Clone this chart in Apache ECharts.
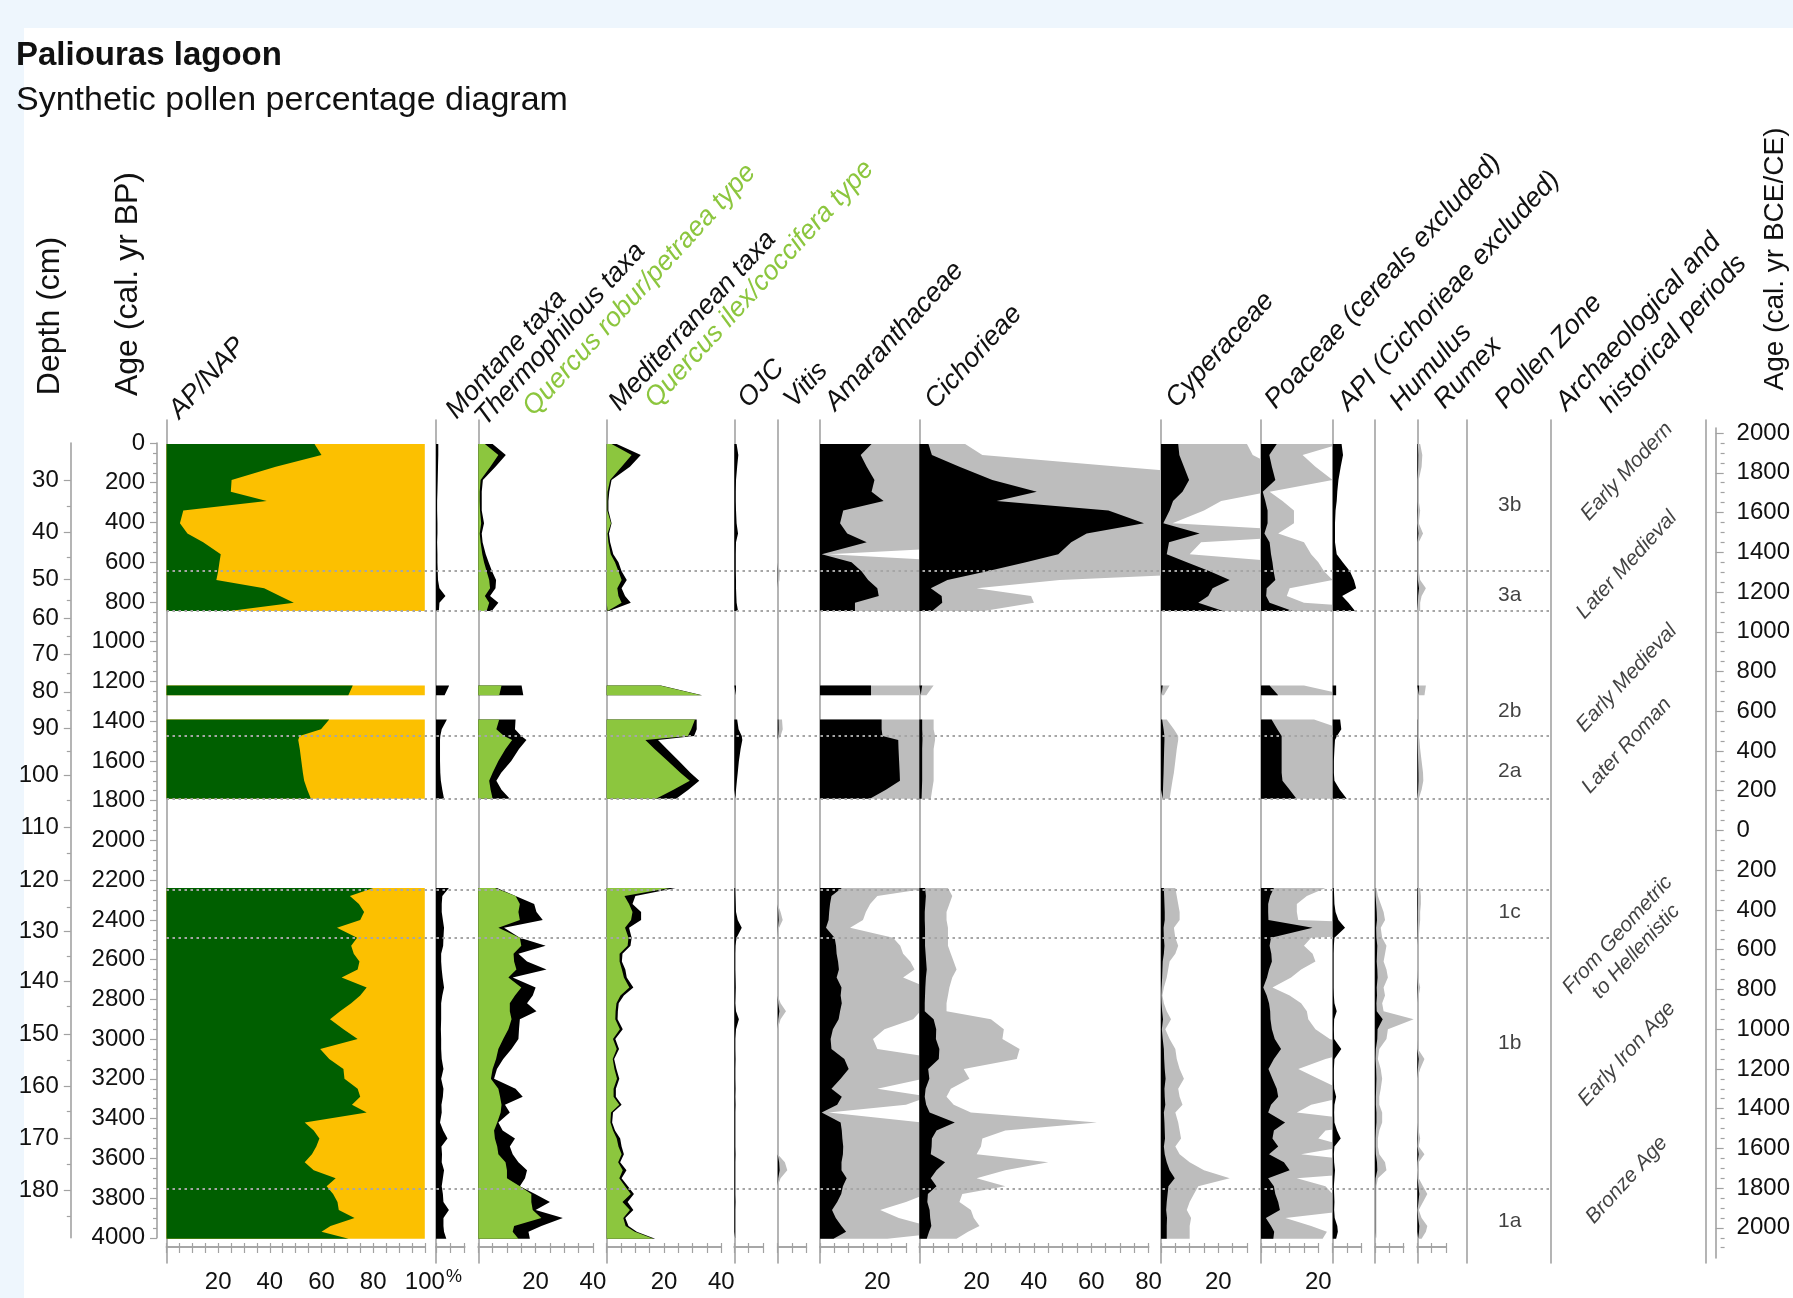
<!DOCTYPE html>
<html>
<head>
<meta charset="utf-8">
<title>Paliouras lagoon – synthetic pollen percentage diagram</title>
<script src="https://cdn.jsdelivr.net/npm/echarts@6.0.0/dist/echarts.min.js"></script>
<style>
  html, body { margin: 0; padding: 0; background: #eef6fd; }
  #sheet { position: absolute; left: 24px; top: 28px; right: 0; bottom: 0; background: #ffffff; }
  #chart { position: absolute; left: 0; top: 0; width: 1793px; height: 1298px; }
</style>
</head>
<body>
<div id="sheet"></div>
<div id="chart"></div>
<script>
// ---------------------------------------------------------------------------
// Sample ages (cal. yr BP). null separates the sampled sections (hiatuses).
// ---------------------------------------------------------------------------
const ages = [
  5, 60, 120, 186, 245, 292, 340, 404, 455, 500, 560, 600, 645, 690, 731, 770, 804, 845, null,
  1220, 1270, null,
  1392, 1440, 1475, 1495, 1540, 1600, 1660, 1700, 1745, 1790, null,
  2240, 2280, 2320, 2360, 2400, 2440, 2490, 2530, 2570, 2610, 2650, 2690, 2740, 2780, 2820, 2860, 2900, 2950, 3000, 3050,
  3100, 3150, 3200, 3250, 3290, 3330, 3370, 3420, 3460, 3500, 3540, 3580, 3620, 3660, 3700, 3740, 3780, 3820, 3860, 3900,
  3940, 3970, 4005
];

// Arboreal pollen (AP, %) – the remainder up to 100 % is NAP
const apPercent = [
  57.3, 60.0, 42.3, 25.2, 24.9, 38.8, 6.5, 5.2, 8.1, 14.2, 21.0, 20.5, 20.0, 19.3, 37.8, 43.9, 49.3, 24.4, null,
  72.1, 70.4, null,
  63.0, 59.8, 51.5, 51.0, 51.6, 52.2, 52.8, 53.3, 54.5, 55.9, null,
  80.0, 71.0, 74.5, 76.5, 75.0, 66.0, 73.8, 71.5, 72.5, 74.7, 74.0, 67.8, 77.5, 75.0, 71.5, 67.2, 63.3, 68.5, 74.0, 59.5,
  63.0, 68.5, 68.9, 74.0, 75.0, 71.8, 77.5, 53.5, 57.0, 59.2, 58.0, 56.3, 53.5, 57.0, 65.5, 62.0, 64.5, 66.2, 66.7, 72.8,
  63.5, 60.0, 70.5
];

const montane = [
  0.8, 0.8, 0.7, 0.6, 0.5, 0.4, 0.4, 0.5, 0.5, 0.4, 0.5, 0.5, 0.6, 0.7, 1.2, 3.3, 1.2, 1.0, null,
  4.6, 3.0, null,
  3.8, 2.0, 1.5, 1.4, 1.4, 1.4, 1.5, 1.7, 2.2, 2.8, null,
  4.5, 2.2, 2.0, 2.0, 2.4, 2.8, 2.6, 2.5, 1.8, 1.8, 2.0, 2.3, 2.8, 2.2, 1.8, 1.8, 1.8, 1.7, 1.8, 1.8,
  2.0, 2.6, 1.8, 2.6, 2.4, 1.9, 2.0, 1.4, 2.5, 4.0, 1.9, 2.1, 2.0, 2.8, 2.4, 2.0, 2.4, 2.6, 4.5, 2.6,
  2.6, 2.8, 3.6
];

const thermophilous = [
  5.0, 9.6, 6.0, 1.6, 1.2, 1.2, 1.2, 2.0, 1.2, 1.5, 2.6, 3.6, 4.8, 6.2, 6.0, 4.1, 7.0, 4.7, null,
  15.1, 15.7, null,
  13.0, 12.8, 15.0, 16.8, 14.2, 11.5, 8.0, 6.3, 8.1, 11.0, null,
  6.5, 13.0, 19.5, 20.3, 22.5, 9.0, 14.5, 23.5, 14.0, 17.0, 23.8, 12.0, 20.0, 19.0, 17.0, 20.3, 14.5, 14.2, 14.0, 11.6,
  8.7, 6.5, 5.5, 13.0, 15.5, 9.3, 11.0, 7.0, 8.5, 12.8, 11.0, 12.0, 14.0, 17.0, 16.3, 14.5, 19.8, 25.0, 20.0, 29.5,
  22.0, 17.5, 18.0
];

const quercusRoburPetraea = [
  2.3, 7.0, 4.2, 0.8, 0.5, 0.5, 0.6, 1.0, 0.5, 0.8, 1.4, 2.0, 2.9, 3.8, 4.1, 2.3, 3.8, 2.9, null,
  8.1, 7.3, null,
  7.3, 6.3, 9.0, 11.8, 9.5, 7.0, 5.0, 3.8, 4.3, 5.0, null,
  5.8, 13.0, 14.5, 14.0, 14.5, 7.0, 14.5, 15.0, 12.3, 12.5, 13.3, 10.5, 15.0, 12.8, 11.0, 11.0, 11.6, 10.5, 8.7, 7.0,
  6.2, 5.0, 4.4, 7.0, 7.6, 8.1, 7.8, 6.6, 5.5, 5.8, 6.6, 7.0, 9.5, 10.0, 10.0, 14.5, 18.5, 18.5, 19.0, 22.0,
  12.5, 12.0, 14.0
];

const mediterranean = [
  3.5, 11.9, 8.1, 1.7, 0.9, 0.6, 0.6, 1.7, 0.8, 1.2, 2.3, 4.1, 5.2, 7.0, 5.2, 6.4, 8.4, 0.8, null,
  18.9, 33.3, null,
  31.4, 31.4, 30.5, 17.9, 21.0, 25.2, 29.2, 32.3, 28.5, 24.2, null,
  24.0, 10.0, 9.0, 12.0, 12.0, 7.8, 8.7, 8.3, 5.5, 5.3, 6.5, 7.0, 9.3, 6.0, 4.2, 3.9, 3.8, 5.6, 3.0, 4.3,
  2.6, 3.4, 4.4, 3.2, 3.2, 5.2, 2.2, 1.9, 2.9, 4.7, 5.2, 6.0, 4.7, 6.9, 5.2, 7.4, 9.5, 7.3, 9.3, 6.5,
  7.6, 10.5, 16.9
];

const quercusIlexCoccifera = [
  1.7, 8.7, 5.2, 1.2, 0.3, 0.2, 0.2, 1.5, 0.3, 0.6, 1.4, 2.9, 4.1, 5.2, 3.7, 4.1, 5.2, 0.3, null,
  18.6, 33.0, null,
  30.8, 29.5, 28.3, 13.5, 16.7, 21.3, 25.7, 29.0, 23.3, 17.2, null,
  22.0, 6.2, 7.8, 9.0, 8.5, 6.4, 7.6, 7.3, 4.5, 4.5, 5.3, 6.0, 7.9, 4.8, 3.4, 3.1, 3.0, 4.6, 2.2, 3.5,
  2.1, 2.7, 3.6, 2.4, 2.4, 4.4, 1.5, 1.3, 2.2, 3.5, 4.1, 5.2, 4.0, 5.6, 4.4, 6.4, 8.4, 5.5, 8.1, 5.8,
  6.6, 9.8, 16.3
];

// Olea, Juglans, Castanea
const ojc = [
  0.8, 1.4, 1.0, 0.6, 0.5, 0.5, 0.6, 0.8, 1.3, 0.6, 0.5, 0.5, 0.5, 0.6, 0.6, 0.7, 0.8, 1.3, null,
  0.6, 0.5, null,
  1.0, 1.5, 2.6, 2.8, 2.2, 1.6, 1.2, 0.9, 0.6, 0.4, null,
  0.3, 0.4, 0.5, 0.6, 1.2, 2.6, 0.8, 0.4, 0.3, 0.3, 0.3, 0.4, 0.5, 0.4, 0.3, 0.6, 1.6, 0.6, 0.3, 0.3,
  0.4, 0.3, 0.3, 0.4, 0.3, 0.4, 0.3, 0.3, 0.3, 0.3, 0.3, 0.4, 0.3, 0.3, 0.3, 0.3, 0.3, 0.4, 0.3, 0.3,
  0.3, 0.3, 0.3
];

const vitis = [
  0, 0, 0, 0, 0, 0, 0, 0, 0, 0, 0, 0, 0.15, 0.12, 0, 0, 0, 0, null,
  0, 0, null,
  0.3, 0.35, 0.2, 0, 0, 0, 0, 0, 0, 0, null,
  0, 0, 0, 0.2, 0.35, 0.1, 0, 0, 0, 0, 0, 0, 0, 0, 0.2, 0.58, 0.2, 0, 0, 0,
  0, 0, 0, 0, 0, 0, 0, 0, 0, 0, 0, 0, 0.5, 0.67, 0.2, 0, 0, 0, 0, 0,
  0, 0, 0
];

const amaranthaceae = [
  18.0, 14.2, 16.3, 19.0, 18.0, 22.2, 8.1, 7.0, 9.5, 16.3, 0.6, 11.0, 14.5, 16.8, 20.0, 20.5, 12.2, 12.2, null,
  17.8, 17.8, null,
  21.5, 21.5, 21.8, 27.3, 27.4, 27.6, 27.8, 27.9, 23.0, 17.4, null,
  7.6, 4.0, 3.5, 3.2, 3.0, 2.1, 5.1, 5.6, 5.8, 6.3, 6.6, 5.8, 7.5, 7.2, 7.6, 7.0, 6.5, 4.5, 3.7, 4.0,
  8.5, 10.0, 7.2, 4.0, 7.6, 6.0, 0.6, 7.2, 7.6, 7.8, 8.1, 8.0, 7.5, 7.5, 9.3, 8.0, 7.4, 6.0, 4.2, 5.5,
  7.5, 9.1, 4.7
];

const cichorieae = [
  3.2, 4.4, 14.0, 25.5, 41.0, 27.0, 66.0, 78.4, 58.4, 53.0, 48.5, 37.2, 23.7, 9.8, 4.0, 7.8, 8.0, 4.5, null,
  1.0, 0.5, null,
  1.0, 1.0, 1.1, 1.1, 1.0, 1.0, 1.0, 1.0, 0.9, 0.8, null,
  2.0, 2.3, 2.1, 1.9, 1.9, 2.0, 2.0, 2.0, 2.2, 2.4, 2.6, 2.3, 2.1, 2.0, 1.9, 1.9, 5.0, 5.9, 5.8, 7.0,
  6.8, 3.1, 3.5, 2.2, 1.9, 2.4, 3.6, 12.4, 6.0, 4.4, 4.3, 4.0, 9.0, 6.0, 4.0, 6.0, 3.0, 2.8, 3.6, 3.8,
  4.2, 3.4, 2.6
];

const cyperaceae = [
  6.0, 6.4, 8.0, 9.8, 7.5, 4.2, 3.0, 0.8, 13.5, 2.8, 2.0, 9.0, 17.0, 24.0, 18.0, 16.5, 13.0, 21.7, null,
  0.6, 0.2, null,
  0.4, 0.9, 1.2, 1.2, 1.1, 1.0, 0.9, 0.8, 0.7, 0.6, null,
  1.0, 1.1, 1.2, 1.3, 1.3, 0.9, 1.0, 1.2, 1.0, 0.6, 0.5, 0.4, 0.2, 0.1, 0.2, 0.4, 0.7, 0.3, 0.6, 1.0,
  1.1, 1.3, 1.6, 1.2, 1.3, 1.5, 1.0, 1.2, 1.3, 1.4, 1.0, 1.3, 2.0, 3.0, 4.8, 2.6, 2.3, 2.0, 1.8, 2.1,
  2.0, 2.0, 2.0
];

const poaceae = [
  5.5, 2.9, 3.8, 5.0, 0.6, 1.5, 2.3, 2.3, 1.2, 3.0, 3.5, 4.0, 4.4, 5.0, 2.0, 1.8, 3.0, 11.0, null,
  3.0, 6.0, null,
  3.7, 5.7, 7.2, 7.2, 7.2, 7.2, 7.2, 7.5, 10.0, 12.4, null,
  4.5, 3.2, 2.5, 2.5, 2.6, 18.0, 3.5, 3.0, 3.6, 3.8, 2.8, 2.1, 0.8, 2.0, 2.8, 3.2, 3.3, 3.8, 4.8, 7.0,
  4.5, 2.6, 4.0, 5.5, 6.0, 3.5, 2.5, 8.4, 4.5, 4.0, 6.0, 2.8, 8.0, 10.0, 2.5, 4.5, 5.0, 6.0, 6.6, 1.7,
  3.5, 4.6, 4.3
];

// Anthropogenic pollen indicators
const api = [
  3.1, 3.6, 2.8, 2.0, 1.6, 1.4, 1.0, 0.8, 0.8, 0.8, 1.4, 3.5, 6.0, 7.4, 8.2, 3.3, 5.5, 7.8, null,
  1.2, 1.2, null,
  2.6, 3.0, 1.5, 0.8, 0.6, 0.4, 0.4, 0.6, 2.5, 4.9, null,
  0.4, 0.5, 0.6, 1.0, 2.0, 4.3, 0.6, 0.4, 0.3, 0.3, 0.3, 0.3, 0.3, 0.4, 0.6, 1.4, 0.5, 0.4, 0.5, 3.0,
  0.6, 0.4, 0.4, 0.5, 1.2, 0.6, 0.5, 0.6, 1.5, 2.8, 0.6, 0.4, 0.5, 0.8, 0.6, 0.4, 0.5, 0.6, 0.5, 0.7,
  1.6, 1.8, 1.2
];

const humulus = [
  0, 0, 0, 0, 0, 0, 0, 0, 0, 0, 0, 0, 0, 0, 0, 0, 0, 0, null,
  0, 0, null,
  0, 0, 0, 0, 0, 0, 0, 0, 0, 0, null,
  0.1, 0.2, 0.4, 0.6, 0.7, 0.4, 0.5, 0.8, 0.7, 0.6, 0.8, 0.9, 0.6, 0.7, 0.5, 0.6, 2.7, 0.9, 0.8, 0.3,
  0.2, 0.4, 0.5, 0.4, 0.3, 0.3, 0.5, 0.5, 0.3, 0.2, 0.2, 0.3, 0.7, 0.8, 0.2, 0.1, 0.1, 0.1, 0.1, 0.1,
  0.1, 0.1, 0.1
];

const rumex = [
  0.2, 0.35, 0.3, 0.1, 0.1, 0.1, 0.2, 0.1, 0.4, 0.1, 0.1, 0.1, 0.1, 0.2, 0.6, 0.3, 0.2, 0.2, null,
  0.6, 0.5, null,
  0.1, 0.1, 0.1, 0.15, 0.2, 0.3, 0.4, 0.42, 0.3, 0.1, null,
  0.2, 0.25, 0.25, 0.2, 0.2, 0.15, 0.1, 0, 0, 0, 0, 0.05, 0.2, 0.1, 0, 0, 0, 0, 0, 0.05,
  0.5, 0.2, 0, 0, 0, 0, 0, 0, 0.1, 0.2, 0.1, 0.5, 0.1, 0, 0.1, 0.4, 0.7, 0.4, 0.1, 0.3,
  0.7, 0.6, 0.3
];

// Pollen zones
const zoneBoundaryAges = [643, 845, 1473, 1792, 2250, 2488, 3751];
const zoneNames = ['3b', '3a', '2b', '2a', '1c', '1b', '1a'];
const zoneLabelAges = [312, 768, 1352, 1654, 2359, 3020, 3914];

// Archaeological and historical periods
const periodNames = ['Early Modern', 'Later Medieval', 'Early Medieval', 'Later Roman',
  'From Geometric\nto Hellenistic', 'Early Iron Age', 'Bronze Age'];
const periodLabelAges = [144, 614, 1184, 1523, 2518, 3075, 3709];

// Depth scale (cm) and the ages at which each depth falls
const depthMajor = [30, 40, 50, 60, 70, 80, 90, 100, 110, 120, 130, 140, 150, 160, 170, 180];
const depthMajorAge = [186, 449, 686, 882, 1063, 1252, 1436, 1671, 1934, 2199, 2459, 2711, 2974, 3236, 3499, 3759];
const depthMinorAge = [317, 575, 790, 975, 1159, 1344, 1553, 1797, 2065, 2334, 2582, 2837, 3105, 3365, 3630, 3894];

// Calendar scale (positive CE, negative BCE)
const calendarMajor = [2000, 1800, 1600, 1400, 1200, 1000, 800, 600, 400, 200, 0,
  -200, -400, -600, -800, -1000, -1200, -1400, -1600, -1800, -2000];
const CAL_ZERO_BP = 1950;   // 1950 CE = 0 cal. yr BP

// ---------------------------------------------------------------------------
// Layout
// ---------------------------------------------------------------------------
const Y_AGE0 = 443;          // y pixel of 0 cal. yr BP
const PX_PER_YEAR = 0.1987;
const FRAME_TOP = 420, FRAME_BOTTOM = 1263;
const SCALE_TOP = 436, SCALE_BOTTOM = 1247;
const PX_PER_PCT = 2.866;
const PX_PER_PCT_AP = 2.583;
const EXAGGERATION = 5;

const C_AP = '#005f00', C_NAP = '#fcc000', C_QUERCUS = '#8cc63e';
const C_BLACK = '#000000', C_GREY = '#bdbdbd', C_AXIS = '#a2a2a2', C_TEXT = '#111111';
const FONT = 'Liberation Sans';
const AXIS_W = 1.6;

const ageAt = y => (y - Y_AGE0) / PX_PER_YEAR;

const napTotal = apPercent.map(v => (v == null ? null : 100));

// one entry per column: x of its axis, x of the next column's axis, scale length
const panels = [
  { x0: 166.5, x1: 424.8, ppu: PX_PER_PCT_AP, scale: 100, labels: [20, 40, 60, 80, 100],
    layers: [{ values: napTotal, color: C_NAP }, { values: apPercent, color: C_AP }] },
  { x0: 436, x1: 478.3, scale: 10, labels: [], layers: [{ values: montane, color: C_BLACK }] },
  { x0: 478.3, x1: 606.7, scale: 40, labels: [20, 40],
    layers: [{ values: thermophilous, color: C_BLACK }, { values: quercusRoburPetraea, color: C_QUERCUS }] },
  { x0: 606.7, x1: 734.3, scale: 40, labels: [20, 40],
    layers: [{ values: mediterranean, color: C_BLACK }, { values: quercusIlexCoccifera, color: C_QUERCUS }] },
  { x0: 734.3, x1: 777.7, scale: 10, labels: [], layers: [{ values: ojc, color: C_BLACK }] },
  { x0: 777.7, x1: 820, scale: 10, labels: [], exaggerated: vitis },
  { x0: 820, x1: 919.3, scale: 30, labels: [20], exaggerated: amaranthaceae },
  { x0: 919.3, x1: 1161, scale: 80, labels: [20, 40, 60, 80], exaggerated: cichorieae },
  { x0: 1161, x1: 1261, scale: 30, labels: [20], exaggerated: cyperaceae },
  { x0: 1261, x1: 1332.7, scale: 20, labels: [20], exaggerated: poaceae },
  { x0: 1332.7, x1: 1375, scale: 10, labels: [], layers: [{ values: api, color: C_BLACK }] },
  { x0: 1375, x1: 1417.3, scale: 10, labels: [], exaggerated: humulus },
  { x0: 1417.3, x1: 1466.7, scale: 10, labels: [], exaggerated: rumex }
];

function toPoints(values, factor) {
  return ages.map((a, k) => (a == null || values[k] == null) ? [null, null] : [values[k] * factor, a]);
}

const grid = [], xAxis = [], yAxis = [], series = [];
const addGrid = g => grid.push(g) - 1;
const axisLineOn = { show: true, lineStyle: { color: C_AXIS, width: AXIS_W } };
const frameAgeAxis = (gi, extra) => Object.assign({
  gridIndex: gi, type: 'value', inverse: true, min: ageAt(FRAME_TOP), max: ageAt(FRAME_BOTTOM),
  axisLine: { show: false }, axisTick: { show: false }, axisLabel: { show: false }, splitLine: { show: false }
}, extra || {});
const hiddenX = gi => ({ gridIndex: gi, type: 'value', min: 0, max: 1, show: false });

panels.forEach(p => {
  const ppu = p.ppu || PX_PER_PCT;
  const layers = p.layers || [
    { values: p.exaggerated, color: C_GREY, factor: EXAGGERATION },
    { values: p.exaggerated, color: C_BLACK }
  ];

  // curves: area from the column axis towards the value, clipped at the next column
  const gi = addGrid({ left: p.x0, top: FRAME_TOP, width: p.x1 - p.x0, height: FRAME_BOTTOM - FRAME_TOP });
  const xi = xAxis.push({ gridIndex: gi, type: 'value', min: 0, max: (p.x1 - p.x0) / ppu, show: false }) - 1;
  const yi = yAxis.push({
    gridIndex: gi, type: 'time', inverse: true, min: ageAt(FRAME_TOP), max: ageAt(FRAME_BOTTOM),
    axisLine: axisLineOn, axisTick: { show: false }, axisLabel: { show: false }, splitLine: { show: false }
  }) - 1;
  layers.forEach((L, k) => series.push({
    type: 'line', xAxisIndex: xi, yAxisIndex: yi,
    data: toPoints(L.values, L.factor || 1),
    symbol: 'none', showSymbol: false, connectNulls: false, clip: true,
    lineStyle: { width: 0 }, areaStyle: { color: L.color, opacity: 1 },
    silent: true, z: 2 + k
  }));

  // percentage scale, top and bottom
  const si = addGrid({ left: p.x0, top: SCALE_TOP, width: p.scale * ppu, height: SCALE_BOTTOM - SCALE_TOP });
  const scaleAxis = pos => ({
    gridIndex: si, type: 'value', position: pos, min: 0, max: p.scale, interval: 5,
    axisLine: axisLineOn,
    axisTick: { show: true, length: pos === 'top' ? 4 : 6, lineStyle: { color: C_AXIS, width: 1.2 } },
    axisLabel: pos === 'top' ? { show: false } : {
      show: true, fontSize: 24, color: C_TEXT, margin: 23, fontFamily: FONT,
      formatter: v => (p.labels.indexOf(v) >= 0 ? String(v) : '')
    },
    splitLine: { show: false }
  });
  xAxis.push(scaleAxis('top'));
  xAxis.push(scaleAxis('bottom'));
  yAxis.push({ gridIndex: si, type: 'value', min: 0, max: 1, show: false });
});

// zone boundaries drawn across all columns
{
  const gi = addGrid({ left: 166.5, top: FRAME_TOP, width: 1551 - 166.5, height: FRAME_BOTTOM - FRAME_TOP });
  const xi = xAxis.push(hiddenX(gi)) - 1;
  const yi = yAxis.push(frameAgeAxis(gi)) - 1;
  series.push({
    type: 'scatter', xAxisIndex: xi, yAxisIndex: yi, silent: true, z: 10,
    symbolSize: 0, data: zoneBoundaryAges.map(a => [0, a]),
    markLine: {
      silent: true, symbol: ['none', 'none'], label: { show: false }, z: 10,
      lineStyle: { color: '#a6a6a6', width: 2, type: [2.5, 3.5] },
      data: zoneBoundaryAges.map(a => ({ yAxis: a }))
    }
  });
}

// pollen zone column
{
  const gi = addGrid({ left: 1466.7, top: FRAME_TOP, width: 1551 - 1466.7, height: FRAME_BOTTOM - FRAME_TOP });
  const xi = xAxis.push(hiddenX(gi)) - 1;
  const yi = yAxis.push(frameAgeAxis(gi, { axisLine: axisLineOn })) - 1;
  series.push({
    type: 'scatter', xAxisIndex: xi, yAxisIndex: yi, silent: true, z: 5,
    symbolSize: 1, itemStyle: { color: 'rgba(0,0,0,0)' },
    data: zoneLabelAges.map(a => [0.51, a]),
    label: { show: true, position: 'inside', formatter: q => zoneNames[q.dataIndex],
      fontSize: 21, color: C_TEXT, fontFamily: FONT }
  });
}

// archaeological / historical periods column
{
  const gi = addGrid({ left: 1551, top: FRAME_TOP, width: 1705.7 - 1551, height: FRAME_BOTTOM - FRAME_TOP });
  const xi = xAxis.push(hiddenX(gi)) - 1;
  const yi = yAxis.push(frameAgeAxis(gi, { axisLine: axisLineOn })) - 1;
  yAxis.push(frameAgeAxis(gi, { position: 'right', axisLine: axisLineOn }));
  series.push({
    type: 'scatter', xAxisIndex: xi, yAxisIndex: yi, silent: true, z: 5,
    symbolSize: 1, itemStyle: { color: 'rgba(0,0,0,0)' },
    data: periodLabelAges.map(a => [0.49, a]),
    label: { show: true, position: 'inside', rotate: 47.5, align: 'center', verticalAlign: 'middle',
      formatter: q => periodNames[q.dataIndex], fontSize: 21, fontStyle: 'italic',
      lineHeight: 25, color: C_TEXT, fontFamily: FONT }
  });
}

// depth axis (cm)
{
  const gi = addGrid({ left: 70.8, top: Y_AGE0, width: 10, height: 4000 * PX_PER_YEAR });
  xAxis.push(hiddenX(gi));
  yAxis.push({
    gridIndex: gi, type: 'value', position: 'left', inverse: true, min: 0, max: 4000,
    axisLine: axisLineOn,
    axisTick: { show: true, length: 7, customValues: depthMajorAge, lineStyle: { color: C_AXIS, width: 1.2 } },
    axisLabel: { show: true, customValues: depthMajorAge, fontSize: 24, margin: 12, color: C_TEXT, fontFamily: FONT,
      formatter: v => { const i = depthMajorAge.indexOf(v); return i >= 0 ? String(depthMajor[i]) : ''; } },
    splitLine: { show: false }
  });
  yAxis.push({
    gridIndex: gi, type: 'value', position: 'left', inverse: true, min: 0, max: 4000,
    axisLine: { show: false },
    axisTick: { show: true, length: 4, customValues: depthMinorAge, lineStyle: { color: C_AXIS, width: 1.2 } },
    axisLabel: { show: false }, splitLine: { show: false }
  });
}

// age axis (cal. yr BP)
{
  const gi = addGrid({ left: 157, top: Y_AGE0, width: 10, height: 4000 * PX_PER_YEAR });
  xAxis.push(hiddenX(gi));
  yAxis.push({
    gridIndex: gi, type: 'value', position: 'left', inverse: true, min: 0, max: 4000, interval: 200,
    axisLine: axisLineOn,
    axisTick: { show: true, length: 7, lineStyle: { color: C_AXIS, width: 1.2 } },
    minorTick: { show: true, splitNumber: 4, length: 4, lineStyle: { color: C_AXIS, width: 1.2 } },
    axisLabel: { fontSize: 24, margin: 12, color: C_TEXT, fontFamily: FONT, formatter: v => String(v) },
    splitLine: { show: false }, minorSplitLine: { show: false }
  });
}

// calendar axis (BCE/CE)
{
  const top = 428, bottom = 1258;
  const gi = addGrid({ left: 1715.7, top: top, width: 10, height: bottom - top });
  xAxis.push(hiddenX(gi));
  const majorBP = calendarMajor.map(c => CAL_ZERO_BP - c);
  const minorBP = [];
  for (let c = 2000; c >= -2100; c -= 50) if (c % 200 !== 0) minorBP.push(CAL_ZERO_BP - c);
  const base = { gridIndex: gi, type: 'value', position: 'right', inverse: true, min: ageAt(top), max: ageAt(bottom), splitLine: { show: false } };
  yAxis.push(Object.assign({}, base, {
    axisLine: axisLineOn,
    axisTick: { show: true, length: 8, customValues: majorBP, lineStyle: { color: C_AXIS, width: 1.2 } },
    axisLabel: { show: true, customValues: majorBP, fontSize: 24, margin: 16, color: C_TEXT, fontFamily: FONT,
      formatter: v => String(Math.abs(Math.round(CAL_ZERO_BP - v))) }
  }));
  yAxis.push(Object.assign({}, base, {
    axisLine: { show: false },
    axisTick: { show: true, length: 4, customValues: minorBP, lineStyle: { color: C_AXIS, width: 1.2 } },
    axisLabel: { show: false }
  }));
}

// ---------------------------------------------------------------------------
// Titles and column headings
// ---------------------------------------------------------------------------
const HEAD_ANGLE = 47.5 * Math.PI / 180;
const HEAD_SIZE = 27;
const headings = [
  ['AP/NAP', 181, 421], ['Montane taxa', 458, 421], ['Thermophilous taxa', 487, 428],
  ['Quercus robur/petraea type', 535, 418, C_QUERCUS], ['Mediterranean taxa', 621, 413],
  ['Quercus ilex/coccifera type', 657, 410, C_QUERCUS], ['OJC', 750, 410], ['Vitis', 796, 410],
  ['Amaranthaceae', 837, 413], ['Cichorieae', 937, 411], ['Cyperaceae', 1178, 410],
  ['Poaceae (cereals excluded)', 1277, 411], ['API (Cichorieae excluded)', 1350, 413],
  ['Humulus', 1402, 413], ['Rumex', 1446, 411], ['Pollen Zone', 1507, 411],
  ['Archaeological and', 1568, 413], ['historical periods', 1612, 415]
];

const graphic = [];
headings.forEach(([txt, bx, by, color]) => {
  const d = 0.35 * HEAD_SIZE;
  graphic.push({
    type: 'text', silent: true,
    x: bx - d * Math.sin(HEAD_ANGLE), y: by - d * Math.cos(HEAD_ANGLE), rotation: HEAD_ANGLE,
    style: { text: txt, fill: color || C_TEXT, font: `italic ${HEAD_SIZE}px "${FONT}"`, align: 'left', verticalAlign: 'middle' }
  });
});

const plainText = (txt, x, y, font) => ({
  type: 'text', silent: true, x: x, y: y,
  style: { text: txt, fill: C_TEXT, font: font, align: 'left', verticalAlign: 'middle' }
});

graphic.push(plainText('Paliouras lagoon', 16, 56, `bold 33px "${FONT}"`));
graphic.push(plainText('Synthetic pollen percentage diagram', 16, 101, `34px "${FONT}"`));
[['Depth (cm)', 50, 316, 32], ['Age (cal. yr BP)', 128, 284, 32], ['Age (cal. yr BCE/CE)', 1775, 259, 28]].forEach(([t, x, y, fs]) => {
  graphic.push({
    type: 'text', silent: true, x: x, y: y, rotation: Math.PI / 2,
    style: { text: t, fill: C_TEXT, font: `${fs}px "${FONT}"`, align: 'center', verticalAlign: 'middle' }
  });
});
graphic.push(plainText('%', 446, 1277, `18px "${FONT}"`));

// ---------------------------------------------------------------------------
const chart = echarts.init(document.getElementById('chart'), null, { renderer: 'canvas', width: 1793, height: 1298 });
chart.setOption({
  animation: false,
  backgroundColor: 'transparent',
  textStyle: { fontFamily: FONT },
  grid: grid,
  xAxis: xAxis,
  yAxis: yAxis,
  series: series,
  graphic: graphic
});
</script>
</body>
</html>
